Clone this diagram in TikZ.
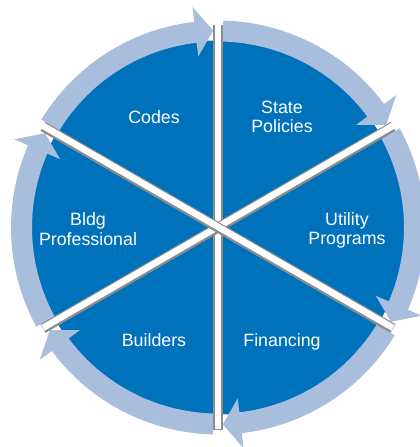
\documentclass[tikz,border=0pt]{standalone}
\usepackage{fontspec}
\setmainfont{Liberation Sans}
\usepackage{tikz}
\definecolor{sectorcolor}{RGB}{0, 114, 188}
\definecolor{ringcolor}{RGB}{169, 189, 220}
\definecolor{gapshadow}{RGB}{140, 140, 140}
\begin{document}
\begin{tikzpicture}[x=1pt, y=1pt,
        label text/.style={text=white,
                           align=center,
                           font=\fontsize{17.8}{19.5}\selectfont}]
        \useasboundingbox (-218,-219.5) rectangle (202,227.5);
        \clip (-218,-219.5) rectangle (202,227.5);
        \fill[sectorcolor] (0,0) circle[radius=187];
        \foreach \a in {90,30,-30,-90,-150,-210}
        {
            \fill[ringcolor] ({\a-1.4}:207) arc[start angle=\a-1.4, end angle=\a-53.4, radius=207]
                -- ({\a-53.4}:222) -- ({\a-58.6}:197) -- ({\a-53.4}:172)
                -- ({\a-53.4}:186) arc[start angle=\a-53.4, end angle=\a-1.4, radius=186]
                -- cycle;
        }
        \foreach \a in {90,30,150}
        {
            \draw[gapshadow, line width=10pt] (\a:202) -- ({\a+180}:202);
            \draw[white, line width=6.5pt] ([yshift=0.7pt]\a:202) -- ([yshift=0.7pt]{\a+180}:202);
        }
        \node[label text] (codes) at (120:128) {Codes};
        \node[label text] (state) at (60:128) {State\\Policies};
        \node[label text, yshift=-3pt] (utility) at (0:129) {Utility\\Programs};
        \node[label text, yshift=-4pt] (financing) at (300:128) {Financing};
        \node[label text, yshift=-2pt] (builders) at (240:128) {Builders};
        \node[label text, yshift=-1.5pt] (bldg) at (180:130) {Bldg\\Professional};
\end{tikzpicture}
\end{document}
